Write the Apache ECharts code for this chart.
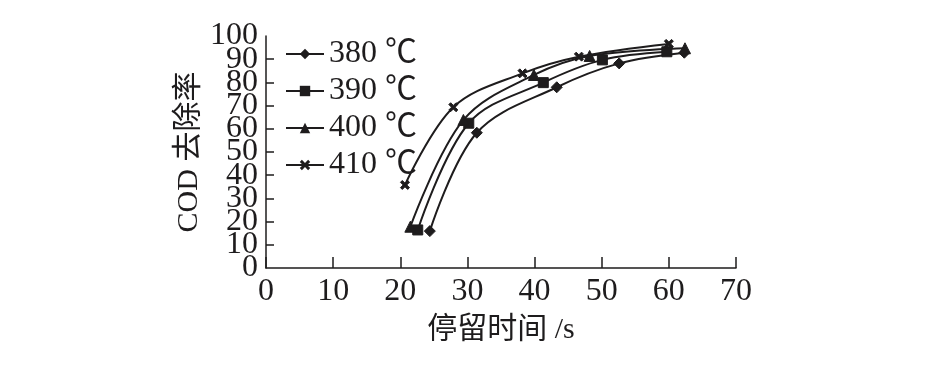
<!DOCTYPE html>
<html><head><meta charset="utf-8">
<script src="https://cdn.jsdelivr.net/npm/echarts@6/dist/echarts.min.js"></script>
<style>html,body{margin:0;padding:0;background:#fff}#c{width:945px;height:378px}</style>
</head><body><div id="c"></div>
<script>
const seriesNames = ['380 ℃', '390 ℃', '400 ℃', '410 ℃'];
const s380 = [[24.4, 15.9], [31.4, 58.3], [43.3, 77.9], [52.6, 88.2], [62.3, 92.8]];
const s390 = [[22.6, 16.4], [30.2, 62.4], [41.3, 79.9], [50.1, 89.7], [59.7, 93.2]];
const s400 = [[21.5, 17.8], [29.4, 63.8], [39.9, 83.2], [48.2, 91.4], [62.4, 94.7]];
const s410 = [[20.7, 35.8], [27.9, 69.3], [38.2, 83.9], [46.6, 91.1], [60.0, 96.6]];
const xTicks = [0, 10, 20, 30, 40, 50, 60, 70];
const yTicks = [0, 10, 20, 30, 40, 50, 60, 70, 80, 90, 100];

const ink = '#1e1c1d';
const serif = '"Liberation Serif", "Noto Sans CJK SC", serif';
const crossPath = 'path://M0,2 L2,0 L5,3 L8,0 L10,2 L7,5 L10,8 L8,10 L5,7 L2,10 L0,8 L3,5 Z';
const symbols = ['diamond', 'rect', 'triangle', crossPath];
const sizes = [11, 10, 11, 9];
const datasets = [s380, s390, s400, s410];
const yMin = yTicks[0], yMax = yTicks[yTicks.length - 1];

const yLabel = {fontFamily: serif, fontSize: 32, color: ink, margin: 8};

const chart = echarts.init(document.getElementById('c'), null, {renderer: 'canvas'});
chart.setOption({
  animation: false,
  backgroundColor: '#fff',
  grid: {left: 266, right: 209, top: 36, bottom: 110, containLabel: false},
  legend: {
    orient: 'vertical', left: 280, top: 33,
    itemWidth: 38, itemHeight: 13, itemGap: 5,
    data: seriesNames,
    textStyle: {fontFamily: serif, fontSize: 32, color: ink, lineHeight: 32}
  },
  xAxis: {
    type: 'value', min: xTicks[0], max: xTicks[xTicks.length - 1], interval: 10,
    name: '停留时间 /s', nameLocation: 'middle', nameGap: 47,
    nameTextStyle: {fontFamily: serif, fontSize: 30, color: ink},
    axisLine: {lineStyle: {color: ink, width: 1.5}},
    axisTick: {inside: true, length: 11, lineStyle: {color: ink, width: 1.5}},
    axisLabel: {fontFamily: serif, fontSize: 32, color: ink, margin: 8, showMinLabel: true, showMaxLabel: true},
    splitLine: {show: false}
  },
  yAxis: [{
    type: 'value', min: yMin, max: yMax, interval: 10, position: 'left',
    name: 'COD 去除率', nameLocation: 'middle', nameGap: 62, nameRotate: 90,
    nameTextStyle: {fontFamily: serif, fontSize: 30, color: ink},
    axisLine: {show: true, lineStyle: {color: ink, width: 1.5}},
    axisTick: {show: true, inside: true, length: 8, lineStyle: {color: ink, width: 1.5}},
    axisLabel: Object.assign({showMinLabel: false, showMaxLabel: false}, yLabel),
    splitLine: {show: false}
  }, {
    type: 'value', min: yMin, max: yMax, interval: yMax - yMin, position: 'left', offset: 0,
    axisLine: {show: false}, axisTick: {show: false},
    axisLabel: Object.assign({showMinLabel: true, showMaxLabel: true}, yLabel),
    splitLine: {show: false}
  }],
  series: datasets.map((d, i) => ({
    name: seriesNames[i], type: 'line', data: d, smooth: 0.35, yAxisIndex: 0,
    symbol: symbols[i], symbolSize: sizes[i], showAllSymbol: true,
    lineStyle: {color: ink, width: 2},
    itemStyle: {color: ink, borderColor: ink}
  }))
});
</script></body></html>
